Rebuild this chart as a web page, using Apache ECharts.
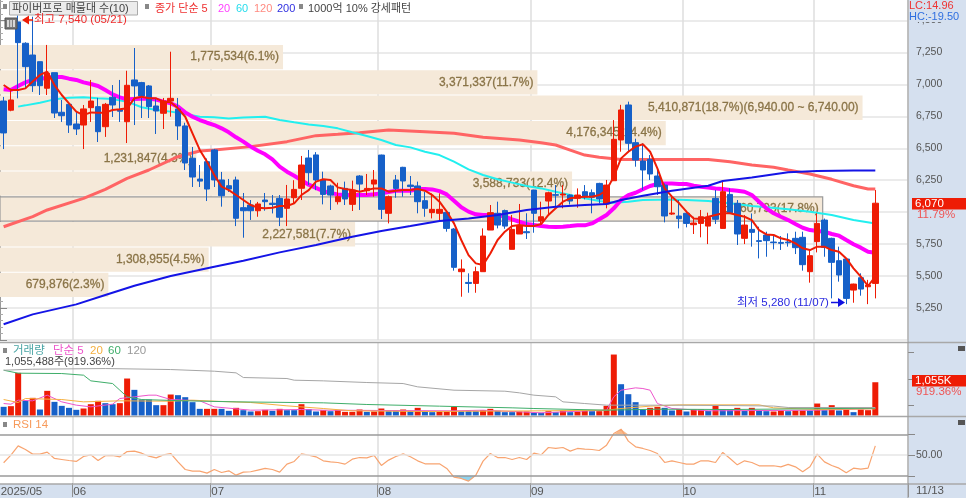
<!DOCTYPE html>
<html><head><meta charset="utf-8">
<style>html,body{margin:0;padding:0;background:#fff}#c{width:966px;height:498px}</style>
<script src="https://cdn.jsdelivr.net/npm/echarts@6/dist/echarts.min.js"></script>
</head><body><div id="c"></div>
<script>
const monthStarts=[0,10,29,52,73,94,112];
const monthLabels=['2025/05','06','07','08','09','10','11'];
const slotCount=125;
// [open, close, low, high]
const candles=[
[6870,6620,6494,6902],[6798,6878,6790,6957],[7489,7327,6891,7540],[7322,7139,6972,7330],[7230,6990,6941,7530],
[7178,6990,6917,7178],[6970,7087,6917,7309],[7092,6776,6737,7092],[6782,6755,6706,6878],[6844,6682,6620,6844],
[6690,6651,6604,6784],[6682,6808,6494,6839],[6818,6870,6706,7035],[6826,6630,6549,6894],[6669,6844,6589,6855],
[6899,6839,6745,6995],[6800,6790,6706,7035],[6708,6993,6541,7107],[7035,6988,6682,7285],[7014,6909,6737,7020],
[6988,6826,6737,6995],[6831,6792,6612,6894],[6774,6870,6651,6894],[6870,6891,6747,7256],[6808,6675,6565,6894],
[6675,6385,6330,6700],[6422,6275,6197,6510],[6259,6243,6197,6369],[6395,6181,6087,6420],[6487,6252,6197,6495],
[6252,6129,6043,6315],[6207,6181,6158,6260],[6252,5952,5891,6278],[6035,6011,5800,6150],[6056,6011,5939,6095],
[6011,6064,5964,6080],[6095,6082,6011,6150],[6070,6060,5990,6134],[6108,5960,5891,6134],[6030,6103,5891,6213],
[6113,6178,6070,6250],[6187,6369,6095,6440],[6424,6309,6213,6487],[6448,6252,6172,6470],
[6252,6139,6061,6317],[6205,6134,6017,6215],[6082,6121,6060,6230],[6186,6103,6056,6239],[6061,6173,6009,6247],
[6283,6220,6017,6290],[6168,6186,6134,6299],[6220,6252,6121,6330],[6447,6022,5946,6450],[5991,6121,5912,6130],
[6252,6186,6113,6291],[6351,6244,6121,6355],[6212,6200,6134,6283],[6205,6082,5991,6239],[6090,6030,5964,6160],
[5996,6022,5951,6147],[5991,6022,5925,6147],[5998,5873,5847,6005],[5868,5568,5542,5875],[5534,5555,5338,5630],
[5450,5442,5369,5521],[5442,5534,5369,5573],[5534,5813,5534,5873],[5860,5996,5860,6056],[5991,5899,5873,6082],
[6012,5891,5870,6020],[5709,5865,5709,5978],[5829,5891,5829,6064],[5847,5839,5790,5991],[6173,5991,5839,6175],
[5931,5964,5907,6082],[6087,6152,5978,6160],[6137,6132,6043,6212],[6134,6142,6030,6212],[6134,6087,6060,6140],
[6108,6134,6035,6186],[6160,6118,6100,6212],[6152,6116,5991,6178],[6225,6103,6069,6230],[6064,6212,6030,6252],
[6246,6570,6246,6721],[6565,6800,6473,6840],[6839,6539,6473,6865],[6544,6408,6356,6575],
[6400,6330,6173,6539],[6413,6299,6252,6447],[6283,6199,6134,6343],[6212,5970,5920,6225],[5985,5993,5978,6121],
[5970,5949,5873,6095],[5991,5912,5881,6009],[5902,5915,5829,5964],[5912,5964,5803,6017],[5891,5959,5750,5996],
[6108,5944,5907,6173],[5873,6160,5873,6239],[6139,5996,5985,6186],[6069,5829,5743,6095],[5795,5899,5750,5978],
[5865,5842,5730,5990],[5777,5771,5638,5886],[5821,5777,5651,5847],[5766,5761,5709,5821],[5763,5756,5704,5813],
[5766,5760,5730,5834],[5795,5722,5672,5847],[5803,5589,5542,5847],[5534,5659,5448,5703],[5769,5912,5685,5991],
[5938,5724,5651,5950],[5795,5607,5325,5800],[5620,5508,5456,5730],[5633,5325,5280,5640],[5390,5437,5291,5440],
[5487,5398,5346,5521],[5416,5429,5280,5470],[5442,6070,5325,6173]];
const ma5=[6995,6956,6956,6969,7022,7074,7100,6995,6917,6852,6787,6760,6781,6779,6779,6800,6805,6813,6891,6904,6891,6891,6865,6860,6813,6747,6617,6487,6395,6291,6200,6173,6134,6095,6056,6035,6030,6035,6048,6048,6069,6134,6173,6239,
6257,6252,6194,6181,6173,6160,6173,6186,6186,6160,6168,6173,6173,6181,6168,6134,6082,6004,5912,5782,5664,5599,5586,5677,5782,5847,5891,5899,5891,5891,5907,5978,6030,6082,6108,6116,6121,6121,6134,6173,6278,6421,6473,6513,
6531,6473,6343,6186,6121,6069,6004,5951,5946,5964,5978,5991,5991,5978,5964,5938,5860,5826,5821,5795,5782,5756,5717,5703,5730,5730,5703,5690,5638,5560,5495,5422,5495];
const ma20=[6962,6956,6988,7016,7035,7040,7055,7058,7058,7045,7035,7016,7003,6988,6956,6922,6899,6883,6886,6888,6888,6881,6865,6852,6826,6781,6747,6721,6700,6682,6656,6625,6586,6552,6513,6481,6453,6413,6356,6317,6285,6250,6215,6190,
6165,6150,6139,6135,6134,6134,6134,6140,6147,6158,6168,6168,6168,6181,6181,6178,6165,6139,6090,6038,6004,5983,5978,5978,5978,5965,5944,5925,5907,5899,5891,5886,5884,5886,5891,5897,5897,5912,5944,5978,6030,6095,6134,6152,
6179,6205,6220,6225,6225,6220,6220,6207,6199,6192,6186,6181,6173,6168,6160,6134,6082,6030,5991,5964,5938,5907,5878,5860,5852,5847,5829,5816,5782,5749,5722,5690,5683];
const ma60=[[2,6826],[3,6836],[5,6857],[7,6883],[9,6896],[11,6899],[13,6891],[15,6886],[17,6865],[19,6821],[21,6800],[23,6787],[25,6768],[27,6747],[29,6742],[31,6734],[33,6740],[35,6745],[36,6747],[38,6721],[40,6703],[42,6687],[44,6674],[46,6656],[48,6625],[50,6596],[52,6565],[54,6526],[56,6507],[58,6473],[60,6447],[62,6395],[64,6335],[66,6291],[68,6257],[70,6231],[72,6205],[74,6186],[76,6160],[78,6134],[80,6108],[82,6087],[84,6074],[86,6082],[88,6095],[92,6100],[94,6095],[97,6087],[100,6069],[103,6048],[105,6038],[108,6022],[111,6004],[114,5978],[117,5938],[120,5912]];
const ma120=[[0,5886],[4,5965],[6,6017],[11,6108],[14,6179],[17,6265],[20,6330],[24,6434],[27,6479],[29,6487],[34,6513],[39,6552],[43,6599],[46,6609],[49,6622],[53,6643],[58,6630],[62,6617],[66,6586],[71,6565],[74,6544],[76,6526],[78,6486],[80,6447],[82,6429],[85,6413],[90,6413],[97,6413],[100,6395],[103,6369],[106,6351],[108,6330],[111,6299],[114,6257],[117,6207],[119,6181],[120,6181]];
const ma200=[[0,5122],[4,5200],[10,5278],[14,5351],[18,5424],[23,5500],[29,5573],[33,5620],[38,5685],[43,5743],[48,5808],[52,5852],[56,5891],[60,5931],[64,5951],[68,5978],[72,6017],[76,6043],[80,6056],[83,6064],[85,6095],[88,6129],[92,6168],[97,6207],[99,6244],[103,6272],[108,6312],[112,6322],[117,6327],[120,6327]];
const profileVolumes=[679876,1308955,2227581,5160793,3588733,1231847,4176345,5410871,3371337,1775534];
const profileLabels=['679,876(2.3%)','1,308,955(4.5%)','2,227,581(7.7%)','5,160,793(17.8%)','3,588,733(12.4%)','1,231,847(4.3%)','4,176,345(14.4%)','5,410,871(18.7%)(6,940.00 ~ 6,740.00)','3,371,337(11.7%)','1,775,534(6.1%)'];
const profileEdges=[5328,5526,5724,5922,6120,6318,6516,6714,6913,7111,7309];
const profileBusiest=3;
const volumes=[275,296,1353,465,560,190,782,433,306,243,180,222,359,465,391,359,391,1173,814,507,507,328,328,666,645,581,423,211,211,211,211,148,243,169,127,137,180,148,211,169,169,359,201,127,
169,137,169,116,116,190,116,127,222,137,137,190,137,243,137,106,127,127,275,137,137,137,169,211,148,106,106,127,127,85,85,137,106,159,106,127,159,137,137,306,
1934,993,676,423,190,243,275,243,159,201,127,190,190,148,306,201,201,243,148,243,169,137,127,159,137,159,159,159,380,169,328,159,190,106,190,169,1055];
const volumeUp=[0,1,1,0,1,0,1,0,0,0,0,1,1,1,0,0,1,1,0,0,0,0,1,1,0,0,0,0,1,1,0,0,1,0,0,1,1,0,1,0,0,1,0,0,
1,0,1,1,1,1,0,1,1,0,0,1,0,1,0,0,1,1,1,0,0,0,1,1,0,0,0,1,1,0,0,1,0,1,0,1,1,0,1,1,
1,0,0,0,0,1,1,0,0,1,0,1,1,0,1,0,0,1,0,1,0,0,1,1,0,1,1,0,1,0,1,0,1,0,1,1,1];
const volMa5=[[0,380],[1,359],[2,486],[4,465],[6,645],[8,433],[10,328],[12,275],[15,359],[16,539],[18,592],[20,645],[21,645],[23,507],[27,465],[29,275],[34,169],[41,190],[44,169],[62,148],[66,169],[74,85],[77,116],[83,169],[84,592],[85,803],[87,877],[88,856],[89,803],[90,380],[92,222],[97,148],[112,169],[120,222]];
const volMa20=[[0,507],[2,412],[3,539],[8,507],[11,433],[16,465],[23,454],[26,486],[29,454],[34,412],[39,306],[44,222],[48,148],[58,127],[74,148],[83,169],[85,222],[89,296],[93,338],[104,338],[106,243],[112,190],[120,211]];
const volMa60=[[0,1437],[2,1342],[8,1331],[11,1279],[12,1099],[15,1014],[16,803],[17,592],[19,507],[25,465],[32,433],[44,402],[50,349],[60,296],[70,243],[73,222],[83,169],[90,200],[100,190],[120,232]];
const volMa120=[[0,1437],[4,1469],[14,1490],[23,1458],[29,1405],[32,1353],[33,1205],[39,1173],[40,1120],[44,1099],[50,1046],[55,1014],[57,909],[62,803],[69,771],[71,719],[73,645],[76,592],[77,433],[80,380],[83,328],[92,328],[100,315],[106,300],[108,254],[120,254]];
const rsi=[42.6,50,59,55.5,51,51,52.9,46.8,45.8,44.8,43.9,48.7,50.3,44.8,49.4,49.7,48.4,53.5,53.9,51.9,49,47.4,50.3,51.6,43.5,36.1,34.5,34.5,32.6,36.1,33.2,34.8,30.6,33.5,33.9,35.5,37.1,36.1,33.5,41.3,43.9,51.3,50,48.4,
44.5,43.5,42.9,41.3,46.1,47.7,47.4,49.7,40,45.2,48.7,51.3,48.4,44.5,41.6,41.6,41.6,37.1,28.7,27.4,24.8,30.6,44.2,51.6,47.7,47.7,45.8,47.7,45.8,51.9,50.3,57.4,56.5,57.4,53.9,56.5,55.8,55.5,54.5,59.7,71,75.2,63.6,58.1,
56.5,54.5,51.6,42.9,44.5,42.9,41.3,41.3,44.5,44.5,42.9,52.6,46.8,40.6,44.5,42.9,39.7,39.7,39.7,38.7,41,38.7,33.9,38.7,51,43.5,40,37.4,32.9,37.4,36.4,37.4,59];
const rsiOver=[[84,70],[84,71],[85,75.2],[86,70]];
const rsiUnder=[[62,30],[62,28.7],[63,27.4],[64,24.8],[65,30]];
const rsiLevels=[30,50,70];

const RED='#ee1c05',BLUE='#1660c8',FONT="'Liberation Sans','Noto Sans CJK KR',sans-serif";
const categories=Array.from({length:slotCount},(_,i)=>{const k=monthStarts.indexOf(i);return k>=0?monthLabels[k]:'s'+i;});
const isMonth=i=>monthStarts.includes(i);
const splitX={show:true,interval:(i)=>i>0&&isMonth(i),lineStyle:{color:'#dedede',width:1.5}};
function xAxis(grid,extra){return Object.assign({type:'category',gridIndex:grid,data:categories,boundaryGap:true,axisLine:{show:false},axisTick:{show:false},axisLabel:{show:false},splitLine:splitX},extra||{});}
function text(x,y,s,fill,size,extra){return Object.assign({type:'text',x:x,y:y,z:100,silent:true,style:{text:s,fill:fill,font:(size||11)+'px '+FONT,textVerticalAlign:'middle'}},extra||{});}
function rect(x,y,w,h,fill,stroke,z){return {type:'rect',silent:true,z:z===undefined?100:z,shape:{x,y,width:w,height:h},style:{fill,stroke:stroke||null,lineWidth:stroke?1:0}};}
function hline(x1,x2,y,color,w){return {type:'line',silent:true,z:99,shape:{x1,y1:y,x2,y2:y},style:{stroke:color,lineWidth:w||1}};}
function arrow(x,y,dir,c){return {type:'polygon',silent:true,z:100,shape:{points:[[x,y],[x-dir*7,y-4.5],[x-dir*7,y+4.5]]},style:{fill:c}};}
function line(name,data,color,w,z,ax){return {name,type:'line',data,xAxisIndex:ax||0,yAxisIndex:ax||0,showSymbol:false,connectNulls:true,z,silent:true,lineStyle:{color,width:w},itemStyle:{color},animation:false};}

const graphics=[
 rect(908,0,58,498,'#d5e0ef',null,-1), rect(0,484,966,14,'#d5e0ef',null,-1),
 rect(909,0,57,22,'#d5e0ef',null,98),
 hline(0,966,342.5,'#a8a8a8',1.5),hline(0,966,416.5,'#a8a8a8',1.5),hline(0,966,484,'#a8a8a8',1.5),
 {type:'line',silent:true,z:99,shape:{x1:908,y1:0,x2:908,y2:498},style:{stroke:'#9a9a9a',lineWidth:1}},
 rect(3,4,4,5,'#888'),rect(9.5,1.5,128,13.5,'#ececec','#aaaaaa'),
 text(12,8.5,'파이버프로 매물대 수(10)','#444'),
 rect(145,4,4,5,'#888'),
 text(155,8.5,'종가 단순 5','#ee3030'),text(218,8.5,'20','#ff40ff'),text(236,8.5,'60','#25dcec'),text(254,8.5,'120','#ff8a80'),text(277,8.5,'200','#3030e0'),
 rect(299,4,4,5,'#888'),text(308,8.5,'1000억 10% 강세패턴','#444'),
 rect(5,18,12,11,'#777','#555'),rect(7,20,8,7,'#d8d8d8',null),
 hline(7,15,22.5,'#777'),hline(7,15,24.8,'#777'),
 {type:'line',silent:true,z:100,shape:{x1:9.7,y1:20,x2:9.7,y2:27},style:{stroke:'#777',lineWidth:1}},
 {type:'line',silent:true,z:100,shape:{x1:12.4,y1:20,x2:12.4,y2:27},style:{stroke:'#777',lineWidth:1}},
 arrow(22,20,-1,'#ee1c05'),hline(26,33,20,'#ee1c05',1.5),text(34,20,'최고 7,540 (05/21)','#ee2a2a',11.5),
 text(737,302.5,'최저 5,280 (11/07)','#2a2ae0',11.5),hline(831,842,302.5,'#1010e0',1.5),arrow(845,302.5,1,'#1010e0'),
 text(909,6,'LC:14.96','#ee3333'),text(909,17,'HC:-19.50','#2f6fe0'),
 rect(912,198,54,11.5,RED),text(915,204,'6,070','#fff',11.5),text(917,214.5,'11.79%','#ee5555',11.5),
 rect(912,375,54,11.5,RED),text(915,381,'1,055K','#fff',11.5),text(916,392,'919.36%','#ee5555',11.5),
 rect(958,346,7,5,'#555'),rect(958,420,7,5,'#555'),
 rect(3,348,4,5,'#888'),text(13,351,'거래량','#4aa5a5',11.5),text(53,351,'단순 5','#ee55cc',11.5),text(90,351,'20','#f5b040',11.5),text(108,351,'60','#3fae6a',11.5),text(127,351,'120','#999',11.5),
 text(5,362,'1,055,488주(919.36%)','#444',11),
 rect(3,422,4,5,'#888'),text(13,424.5,'RSI 14','#f79a5a',11.5),
 text(916,491,'11/13','#555',11.5)
];

const option={
 animation:false,backgroundColor:'#fff',textStyle:{fontFamily:FONT},
 grid:[
  {left:0,top:-11.4,width:908,height:351.3,outerBoundsMode:'none'},
  {left:0,top:343,width:908,height:72.5,outerBoundsMode:'none'},
  {left:0,top:417,width:908,height:66,outerBoundsMode:'none'}],
 xAxis:[
  xAxis(0),xAxis(1),
  xAxis(2,{axisLine:{show:false},
    axisTick:{show:true,length:14,interval:(i)=>i>0&&isMonth(i),lineStyle:{color:'#909090'}},
    axisLabel:{show:true,interval:(i)=>isMonth(i),align:'left',margin:3,color:'#555',fontSize:11.5,padding:[0,0,0,-3],
      formatter:(v)=>monthLabels.includes(v)?v:''}}),
  {type:'value',gridIndex:0,min:0,max:5696000,show:false}],
 yAxis:[
  {type:'value',gridIndex:0,position:'right',min:5000,max:7750,interval:250,
   axisLine:{show:true,lineStyle:{color:'#9a9a9a'}},axisTick:{show:true,length:7,lineStyle:{color:'#888'}},
   minorTick:{show:true,splitNumber:5,length:3,lineStyle:{color:'#aaa'}},
   axisLabel:{color:'#555',fontSize:10.5,margin:8,showMinLabel:false,showMaxLabel:false,formatter:(v)=>v===6000?'':v.toLocaleString('en-US')},
   splitLine:{show:true,lineStyle:{color:'#e4e4e4',width:1.5}}},
  {type:'value',gridIndex:1,position:'right',min:0,max:2300,
   axisLine:{show:false},axisTick:{show:true,length:6,customValues:[333,1157,2010],lineStyle:{color:'#888'}},
   axisLabel:{show:false},splitLine:{show:false}},
  {type:'value',gridIndex:2,position:'right',min:23,max:87,
   axisLine:{show:false},axisTick:{show:true,length:7,customValues:rsiLevels,lineStyle:{color:'#888'}},
   axisLabel:{show:true,customValues:[50],margin:8,color:'#555',fontSize:10.5,formatter:(v)=>v.toFixed(2)},splitLine:{show:false}}],
 series:[
  {type:'custom',xAxisIndex:3,yAxisIndex:0,z:1,silent:true,
   data:profileVolumes.map((v,i)=>[v,profileEdges[i],profileEdges[i+1]]),encode:{x:0,y:[1,2]},
   renderItem:(p,api)=>{
    const i=p.dataIndex,a=api.coord([0,api.value(2)]),b=api.coord([api.value(0),api.value(1)]);
    const top=a[1],h=b[1]-a[1]-1;
    return {type:'group',children:[
     {type:'rect',shape:{x:0,y:top,width:b[0],height:h},style:{fill:'#f5e9d9',stroke:i===profileBusiest?'#9a9a9a':null,lineWidth:i===profileBusiest?1.2:0}},
     {type:'text',style:{x:b[0]-4,y:top+h/2,text:profileLabels[i],fill:'#8a7447',stroke:'#8a7447',lineWidth:0.3,font:'12px '+FONT,textAlign:'right',textVerticalAlign:'middle'}}]};
   }},
  line('MA120',ma120,'#ff6464',3,3),
  line('MA60',ma60,'#22efef',2,3),
  line('MA20',ma20.map((v,i)=>[i,v]),'#ff00ff',4,3),
  {type:'candlestick',xAxisIndex:0,yAxisIndex:0,z:5,silent:true,data:candles,barWidth:6,
   itemStyle:{color:RED,color0:BLUE,borderColor:RED,borderColor0:BLUE,borderWidth:1}},
  line('MA5',ma5.map((v,i)=>[i,v]),'#ee1c05',2,6),
  line('MA200',ma200,'#1414e6',2,6),
  {type:'bar',xAxisIndex:1,yAxisIndex:1,barWidth:6,z:2,silent:true,
   data:volumes.map((v,i)=>({value:v,itemStyle:{color:volumeUp[i]?RED:BLUE}}))},
  line('V5',volMa5,'#ee55cc',1,3,1),line('V20',volMa20,'#f5b040',1,3,1),line('V60',volMa60,'#3fae6a',1,3,1),line('V120',volMa120,'#a6a6a6',1,3,1),
  Object.assign(line('over',rsiOver,'#f7b98a',0,2,2),{areaStyle:{origin:70,color:'#f7b98a',opacity:1}}),
  Object.assign(line('under',rsiUnder,'#8fd3ee',0,2,2),{areaStyle:{origin:30,color:'#8fd3ee',opacity:1}}),
  Object.assign(line('RSI',rsi.map((v,i)=>[i,v]),'#f8a470',1.2,4,2),{
   markLine:{silent:true,symbol:'none',animation:false,label:{show:false},data:rsiLevels.map(v=>({yAxis:v,lineStyle:{color:v===50?'#e6e6e6':'#9a9a9a',width:1.5,type:'solid'}}))}})
 ],
 graphic:{elements:graphics}
};
const chart=echarts.init(document.getElementById('c'),null,{renderer:'canvas'});
chart.setOption(option);
</script></body></html>
